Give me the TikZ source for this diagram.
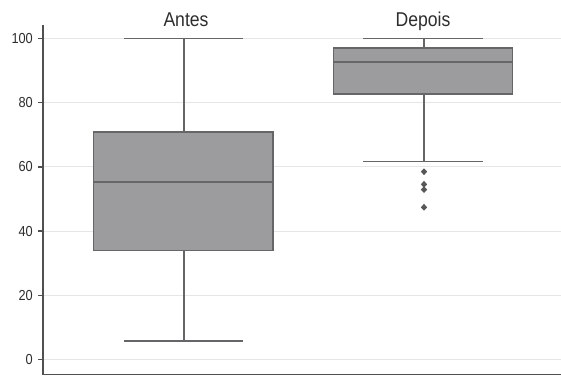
\documentclass[tikz,border=0pt]{standalone}
\usepackage{fontspec}
\setmainfont{Liberation Sans}[FakeStretch=0.88]
\usetikzlibrary{shapes.geometric}
\definecolor{txt}{HTML}{2E2E2E}
\definecolor{boxfill}{HTML}{9C9C9E}
\definecolor{boxline}{HTML}{666668}
\definecolor{gridc}{HTML}{E6E6E6}
\definecolor{axisc}{HTML}{505050}
\tikzset{
  gridline/.style={draw=gridc, line width=1.1pt},
  axisline/.style={draw=axisc, line width=1.8pt},
  tickline/.style={draw=axisc, line width=1.3pt},
  ticklabel/.style={anchor=east, text=txt, font=\fontsize{14.5}{14.5}\selectfont, inner sep=0pt},
  titlelabel/.style={anchor=base, text=txt, font=\fontsize{20}{20}\selectfont, inner sep=0pt},
  boxbody/.style={fill=boxfill, draw=boxline, line width=1.6pt},
  whisk/.style={draw=boxline, line width=1.6pt},
  outlier/.style={diamond, fill=boxline!85!black, inner sep=0pt, minimum width=6.5pt, minimum height=7pt}
}
\begin{document}
\begin{tikzpicture}[x=1pt,y=-1pt]
\useasboundingbox (0,0) rectangle (561,376);
\fill[white] (0,0) rectangle (561,376);
% grid lines and ticks
\foreach \v/\py in {100/38.5,80/102.7,60/166.9,40/231.1,20/295.3,0/359.5}{
  \draw[gridline] (44,\py) -- (561,\py);
  \draw[tickline] (38,\py) -- (43,\py);
  \node[ticklabel] (t\v) at (33,\py) {\v};
}
% axes
\draw[axisline] (43,25) -- (43,374.5) -- (561,374.5);
% titles
\node[titlelabel] (antes) at (186,26.5) {Antes};
\node[titlelabel] (depois) at (423,26.5) {Depois};
% Antes box
\coordinate (amax) at (184,38.5);
\coordinate (amin) at (184,341.2);
\coordinate (aq3) at (184,132);
\coordinate (aq1) at (184,250.4);
\draw[whisk] (amax) -- (aq3);
\draw[whisk] (aq1) -- (amin);
\draw[whisk] (124,38.5) -- (243,38.5);
\draw[whisk] (124,341.2) -- (243,341.2);
\draw[boxbody] (93.5,132) rectangle (273,250.4);
\draw[whisk] (93.5,182) -- (273,182);
% Depois box
\coordinate (dmax) at (424,38.5);
\coordinate (dmin) at (424,161.4);
\coordinate (dq3) at (424,47.8);
\coordinate (dq1) at (424,94);
\draw[whisk] (dmax) -- (dq3);
\draw[whisk] (dq1) -- (dmin);
\draw[whisk] (363,38.5) -- (483,38.5);
\draw[whisk] (363,161.4) -- (483,161.4);
\draw[boxbody] (333.5,47.8) rectangle (512.5,94);
\draw[whisk] (333.5,62) -- (512.5,62);
% outliers
\node[outlier] (o1) at (424,171.7) {};
\node[outlier] (o2) at (424,184.3) {};
\node[outlier] (o3) at (424,189.6) {};
\node[outlier] (o4) at (424,207.3) {};
\end{tikzpicture}
\end{document}
